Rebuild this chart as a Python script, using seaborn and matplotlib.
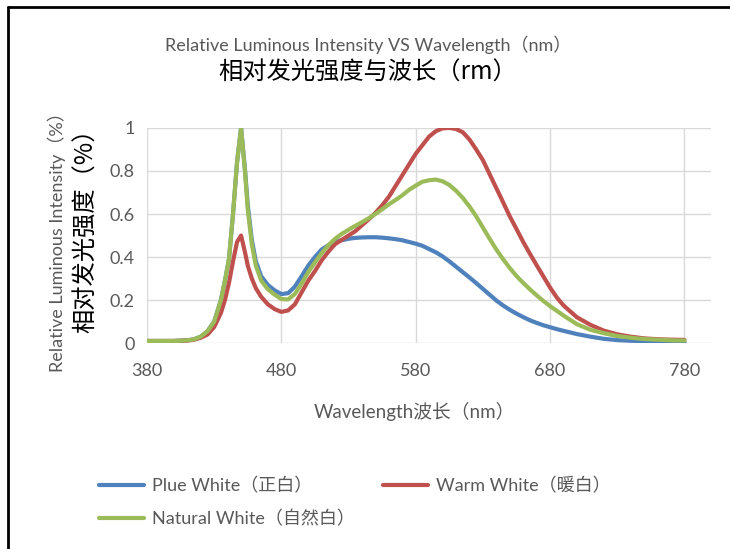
import pandas as pd
import seaborn as sns
import matplotlib.pyplot as plt
from matplotlib.lines import Line2D

# Spectrum values (wavelength in nm, relative intensity)
wavelength = [380, 390, 400, 410, 415, 420, 425, 430, 435, 438,
              441, 444, 447, 450, 453, 455, 458, 461, 465, 470,
              475, 480, 485, 490, 495, 500, 505, 510, 515, 520,
              525, 530, 535, 540, 545, 550, 555, 560, 565, 570,
              575, 580, 585, 590, 595, 600, 605, 610, 615, 620,
              625, 630, 635, 640, 645, 650, 655, 660, 665, 670,
              675, 680, 685, 690, 700, 710, 720, 730, 740, 750,
              760, 770, 780]

plue_white = [0.01, 0.01, 0.01, 0.013, 0.018, 0.03, 0.055, 0.1, 0.2, 0.29,
              0.39, 0.6, 0.84, 1.0, 0.8, 0.64, 0.48, 0.38, 0.31, 0.27,
              0.245, 0.228, 0.232, 0.262, 0.31, 0.36, 0.40, 0.435, 0.455, 0.47,
              0.478, 0.485, 0.489, 0.491, 0.492, 0.492, 0.49, 0.487, 0.483, 0.478,
              0.47, 0.462, 0.452, 0.437, 0.422, 0.403, 0.38, 0.355, 0.33, 0.305,
              0.279, 0.252, 0.225, 0.198, 0.175, 0.155, 0.137, 0.121, 0.106, 0.094,
              0.083, 0.074, 0.065, 0.057, 0.042, 0.03, 0.02, 0.014, 0.011, 0.009,
              0.007, 0.006, 0.005]

warm_white = [0.01, 0.01, 0.01, 0.012, 0.016, 0.025, 0.04, 0.075, 0.14, 0.2,
              0.28, 0.38, 0.47, 0.5, 0.42, 0.36, 0.3, 0.255, 0.215, 0.18,
              0.158, 0.145, 0.152, 0.18, 0.235, 0.29, 0.335, 0.385, 0.425, 0.46,
              0.48, 0.5, 0.52, 0.548, 0.575, 0.605, 0.64, 0.68, 0.73, 0.78,
              0.83, 0.88, 0.92, 0.96, 0.985, 0.998, 1.0, 0.995, 0.98, 0.946,
              0.9, 0.85, 0.785, 0.72, 0.655, 0.589, 0.53, 0.47, 0.415, 0.362,
              0.31, 0.258, 0.212, 0.175, 0.12, 0.085, 0.058, 0.041, 0.03, 0.022,
              0.018, 0.016, 0.015]

natural_white = [0.01, 0.01, 0.01, 0.013, 0.018, 0.03, 0.055, 0.1, 0.2, 0.29,
                 0.39, 0.6, 0.84, 1.0, 0.79, 0.62, 0.46, 0.36, 0.29, 0.25,
                 0.225, 0.205, 0.203, 0.228, 0.275, 0.33, 0.375, 0.418, 0.455, 0.485,
                 0.508, 0.527, 0.545, 0.562, 0.58, 0.6, 0.622, 0.645, 0.665, 0.687,
                 0.712, 0.732, 0.75, 0.757, 0.76, 0.752, 0.735, 0.708, 0.675, 0.635,
                 0.589, 0.537, 0.485, 0.435, 0.39, 0.349, 0.312, 0.28, 0.25, 0.222,
                 0.196, 0.172, 0.15, 0.128, 0.088, 0.062, 0.046, 0.033, 0.025, 0.019,
                 0.016, 0.013, 0.012]

series_names = ['Plue White（正白）', 'Warm White（暖白）', 'Natural White（自然白）']
colors = ['#4F81BD', '#C0504D', '#9BBB59']

x_ticks = [380, 480, 580, 680, 780]
y_ticks = [0, 0.2, 0.4, 0.6, 0.8, 1]
y_tick_labels = ['0', '0.2', '0.4', '0.6', '0.8', '1']

df = pd.DataFrame({'wavelength': wavelength,
                   series_names[0]: plue_white,
                   series_names[1]: warm_white,
                   series_names[2]: natural_white})
df_long = df.melt(id_vars='wavelength', var_name='series', value_name='intensity')

sns.set_style('white')
plt.rcParams['font.family'] = ['Lato', 'Noto Sans CJK SC', 'DejaVu Sans']

fig = plt.figure(figsize=(7.3, 5.49), dpi=100)
ax = fig.add_axes([0.2014, 0.375, 0.773, 0.392])

sns.lineplot(data=df_long, x='wavelength', y='intensity', hue='series',
             palette=colors, linewidth=3, ax=ax, legend=False, sort=True)

ax.set_xlim(380, 800)
ax.set_ylim(0, 1)
ax.set_xticks(x_ticks)
ax.set_yticks(y_ticks)
ax.set_yticklabels(y_tick_labels)
ax.grid(True, color='#d9d9d9', linewidth=1)
ax.tick_params(length=0, labelsize=13, labelcolor='#595959')
ax.tick_params(axis='x', pad=14)
ax.tick_params(axis='y', pad=9)
for s in ax.spines.values():
    s.set_visible(False)
ax.set_xlabel('')
ax.set_ylabel('')

# titles
fig.text(0.504, 0.918, 'Relative Luminous Intensity VS Wavelength（nm）',
         ha='center', va='center', fontsize=13, color='#595959')
fig.text(0.503, 0.867, '相对发光强度与波长（rm）', ha='center', va='center',
         fontsize=17.5, color='black', family=['Noto Sans CJK SC', 'DejaVu Sans'])

# y labels
fig.text(0.078, 0.568, 'Relative Luminous Intensity（%）', rotation=90,
         ha='center', va='center', fontsize=13, color='#595959')
fig.text(0.118, 0.59, '相对发光强度（%）', rotation=90, ha='center', va='center',
         fontsize=17.5, color='black', family=['Noto Sans CJK SC', 'DejaVu Sans'])

# x label
fig.text(0.568, 0.25, 'Wavelength波长（nm）', ha='center', va='center',
         fontsize=13.5, color='#595959')

# legend (row order: Plue, Warm / Natural)
order = [0, 2, 1]
handles = [Line2D([], [], color=colors[i], linewidth=3) for i in order]
labels = [series_names[i] for i in order]
fig.legend(handles, labels, loc='upper left', bbox_to_anchor=(0.113, 0.161),
           ncol=2, frameon=False, fontsize=13, labelcolor='#595959',
           handlelength=2.5, handletextpad=0.45, columnspacing=1.55, labelspacing=0.9)

# black frame on top and left edges
fig.add_artist(Line2D([0.011, 1.0], [0.987, 0.987], transform=fig.transFigure,
                      color='black', linewidth=2))
fig.add_artist(Line2D([0.011, 0.011], [0.0, 0.987], transform=fig.transFigure,
                      color='black', linewidth=2))

fig.savefig('out.png', dpi=100)
